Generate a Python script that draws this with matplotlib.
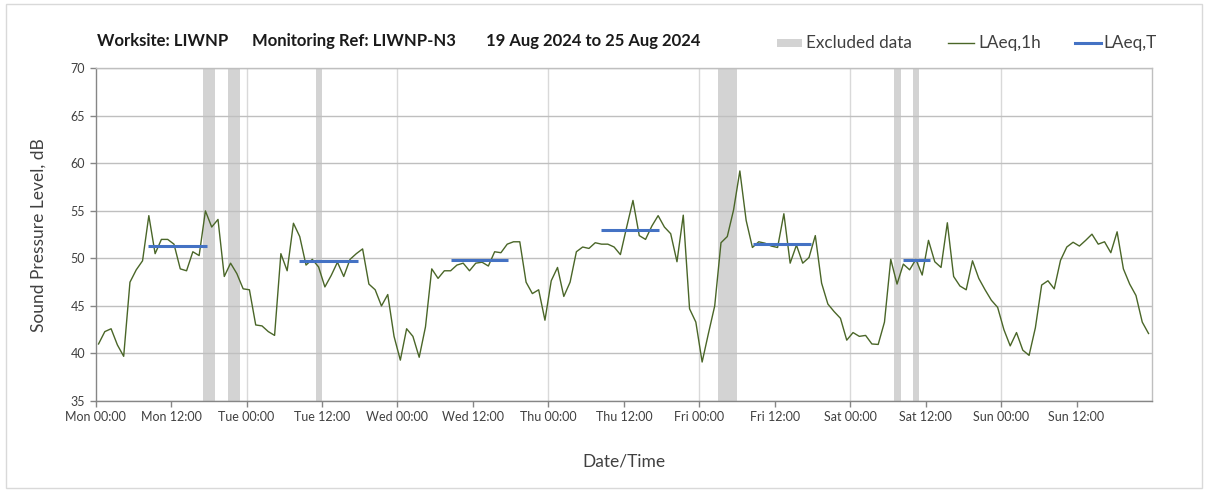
import numpy as np
import matplotlib
matplotlib.use("Agg")
import matplotlib.pyplot as plt
from matplotlib.lines import Line2D
from matplotlib.patches import Rectangle

# ---------------- data ----------------
title_parts = ["Worksite: LIWNP", "Monitoring Ref: LIWNP-N3", "19 Aug 2024 to 25 Aug 2024"]
tick_labels = ["Mon 00:00", "Mon 12:00", "Tue 00:00", "Tue 12:00", "Wed 00:00", "Wed 12:00",
               "Thu 00:00", "Thu 12:00", "Fri 00:00", "Fri 12:00", "Sat 00:00", "Sat 12:00",
               "Sun 00:00", "Sun 12:00"]

# hourly LAeq,1h values, Mon 00:00 .. Sun 23:00
laeq_1h = [
    41.0, 42.3, 42.6, 40.9, 39.7, 47.5, 48.8, 49.75, 54.5, 50.5, 52.0, 52.0,
    51.5, 48.9, 48.7, 50.7, 50.3, 55.0, 53.3, 54.1, 48.1, 49.5, 48.4, 46.8,
    46.7, 43.0, 42.9, 42.3, 41.9, 50.5, 48.7, 53.7, 52.3, 49.3, 49.9, 49.1,
    47.0, 48.2, 49.6, 48.1, 49.9, 50.5, 51.0, 47.3, 46.7, 45.0, 46.2, 41.8,
    39.3, 42.6, 41.8, 39.6, 42.8, 48.9, 47.9, 48.7, 48.7, 49.3, 49.5, 48.7,
    49.5, 49.6, 49.2, 50.7, 50.6, 51.5, 51.75, 51.75, 47.5, 46.3, 46.7, 43.5,
    47.65, 49.05, 46.0, 47.5, 50.7, 51.2, 51.05, 51.65, 51.5, 51.5, 51.2, 50.4,
    53.3, 56.1, 52.4, 52.0, 53.4, 54.5, 53.3, 52.6, 49.65, 54.55, 44.7, 43.3,
    39.1, 42.1, 45.0, 51.65, 52.3, 55.1, 59.2, 54.0, 51.15, 51.75, 51.6, 51.3,
    51.15, 54.7, 49.5, 51.4, 49.5, 50.1, 52.4, 47.4, 45.2, 44.4, 43.7, 41.4,
    42.2, 41.8, 41.9, 41.0, 40.95, 43.3, 49.9, 47.3, 49.4, 48.8, 49.9, 48.25,
    51.9, 49.65, 49.05, 53.75, 48.1, 47.1, 46.7, 49.75, 47.9, 46.7, 45.6, 44.85,
    42.5, 40.8, 42.2, 40.35, 39.8, 42.7, 47.2, 47.65, 46.8, 49.8, 51.2, 51.7,
    51.3, 51.9, 52.55, 51.5, 51.75, 50.6, 52.8, 48.9, 47.3, 46.1, 43.3, 42.1,
]

# LAeq,T periods: (start hour, end hour, level)
laeq_t_start = [8.37, 32.38, 56.46, 80.41, 104.5, 128.4]
laeq_t_end = [17.65, 41.67, 65.62, 89.63, 113.7, 132.7]
laeq_t_level = [51.33, 49.75, 49.82, 53.02, 51.5, 49.86]

# excluded data periods (hours from Mon 00:00)
excl_start = [17, 21, 35, 99, 127, 130]
excl_end = [19, 23, 36, 102, 128, 131]

# ---------------- figure ----------------
plt.rcParams['font.family'] = ['Lato', 'DejaVu Sans']
W, H = 1208, 492
fig = plt.figure(figsize=(W / 100, H / 100), dpi=100)
ax = fig.add_axes([95.7 / W, 1 - 401 / H, (1152 - 95.7) / W, (401 - 68.3) / H])

hours = np.arange(len(laeq_1h)) + 0.45

for s, e in zip(excl_start, excl_end):
    ax.axvspan(s, e, color='#d3d3d3', lw=0, zorder=1)

ax.plot(hours, laeq_1h, color='#4a6628', lw=1.0, zorder=3)
for s, e, v in zip(laeq_t_start, laeq_t_end, laeq_t_level):
    ax.plot([s, e], [v, v], color='#4472c4', lw=2.2, zorder=4, solid_capstyle='butt')

ax.set_xlim(0, 168)
ax.set_ylim(35, 70)
ax.set_yticks(np.arange(35, 71, 5))
ax.set_xticks(np.arange(0, 168, 12))
ax.set_xticklabels(tick_labels)

ax.grid(axis='y', color='#bfbfbf', lw=1.0, zorder=0)
for d in range(24, 168, 24):
    ax.axvline(d, color='#d9d9d9', lw=1.0, zorder=0)

for side in ['top', 'right']:
    ax.spines[side].set_color('#bfbfbf')
    ax.spines[side].set_linewidth(1.0)
for side in ['left', 'bottom']:
    ax.spines[side].set_color('#868686')
    ax.spines[side].set_linewidth(1.0)

ax.tick_params(axis='both', direction='out', length=4, width=1.0, color='#868686',
               labelsize=9, labelcolor='#404040')
ax.tick_params(axis='x', pad=3)

ax.set_ylabel('Sound Pressure Level, dB', fontsize=12.5, color='#404040', labelpad=17)
ax.set_xlabel('Date/Time', fontsize=12.5, color='#404040', labelpad=22)

# title pieces
title_x = [97, 252, 486]
for t, x in zip(title_parts, title_x):
    fig.text(x / W, 1 - 41 / H, t, fontsize=12, fontweight='bold', color='#1a1a1a',
             ha='left', va='center')

# manual legend
ly = 1 - 43 / H
fig.patches.append(Rectangle((777 / W, 1 - 47 / H), 25 / W, 8 / H, transform=fig.transFigure,
                             facecolor='#d3d3d3', edgecolor='none'))
fig.text(806 / W, ly, 'Excluded data', fontsize=12.3, color='#404040', ha='left', va='center')
fig.lines.append(Line2D([948 / W, 974 / W], [ly, ly], transform=fig.transFigure,
                        color='#4a6628', lw=1.0))
fig.text(978 / W, ly, 'LAeq,1h', fontsize=12.3, color='#404040', ha='left', va='center')
fig.lines.append(Line2D([1075 / W, 1101 / W], [ly, ly], transform=fig.transFigure,
                        color='#4472c4', lw=2.2))
fig.text(1103 / W, ly, 'LAeq,T', fontsize=12.3, color='#404040', ha='left', va='center')

# chart frame
fig.patches.append(Rectangle((6 / W, 4 / H), (W - 12) / W, (H - 8) / H, transform=fig.transFigure,
                             facecolor='none', edgecolor='#d9d9d9', lw=1.0))

fig.savefig('out.png', dpi=100, facecolor='white')
